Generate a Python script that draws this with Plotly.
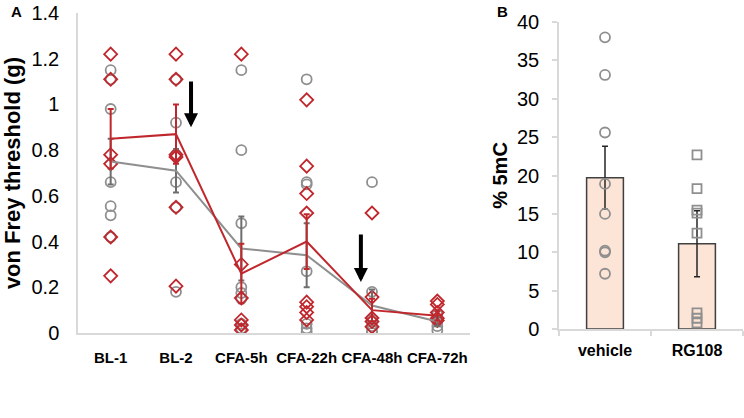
import plotly.graph_objects as go

# ---------------- Panel A data ----------------
timepoints = ["BL-1", "BL-2", "CFA-5h", "CFA-22h", "CFA-48h", "CFA-72h"]

gray_points = {
    "BL-1": [1.15, 1.11, 0.98, 0.66, 0.555, 0.515, 0.42],
    "BL-2": [1.11, 0.92, 0.78, 0.66, 0.55, 0.18],
    "CFA-5h": [1.15, 0.80, 0.48, 0.20, 0.175, 0.15, 0.04, 0.02],
    "CFA-22h": [1.11, 0.66, 0.65, 0.27, 0.04, 0.02, 0.005],
    "CFA-48h": [0.66, 0.18, 0.06, 0.03, 0.01, 0.0],
    "CFA-72h": [0.08, 0.05, 0.03, 0.012],
}
red_points = {
    "BL-1": [1.22, 1.11, 0.78, 0.74, 0.42, 0.25],
    "BL-2": [1.22, 1.11, 0.78, 0.77, 0.55, 0.205],
    "CFA-5h": [1.22, 0.30, 0.153, 0.057, 0.035, 0.013],
    "CFA-22h": [1.02, 0.73, 0.61, 0.525, 0.135, 0.115, 0.09, 0.057],
    "CFA-48h": [0.525, 0.157, 0.066, 0.05, 0.027],
    "CFA-72h": [0.14, 0.125, 0.09, 0.065, 0.055],
}
gray_mean = [0.75, 0.71, 0.37, 0.34, 0.12, 0.05]
gray_sem = [0.10, 0.095, 0.14, 0.14, 0.07, 0.02]
red_mean = [0.85, 0.87, 0.26, 0.40, 0.10, 0.075]
red_sem = [0.13, 0.13, 0.13, 0.12, 0.05, 0.02]

# arrows: (x position in category units, y start, y end)
arrows = [(1.23, 1.107, 0.90), (3.83, 0.437, 0.223)]

# ---------------- Panel B data ----------------
groups = ["vehicle", "RG108"]
group_mean = [19.7, 11.1]
group_sem = [4.1, 4.3]
vehicle_points = [38.0, 33.1, 25.6, 18.9, 15.0, 10.2, 10.0, 7.2]
rg108_points = [22.7, 18.3, 15.5, 15.1, 12.5, 2.1, 1.4, 0.8]

RED = "#C0272D"
GRAY = "#8F8F8F"
AXC = "#D9D9D9"
FONT = "Arial, Liberation Sans, sans-serif"
W, H = 744, 418

fig = go.Figure()

gx, gy = [], []
for t in timepoints:
    for v in gray_points[t]:
        gx.append(t); gy.append(v)
fig.add_trace(go.Scatter(x=gx, y=gy, mode="markers", xaxis="x", yaxis="y",
                         marker=dict(symbol="circle-open", size=10, color=GRAY,
                                     line=dict(width=1.8, color=GRAY)),
                         showlegend=False, hoverinfo="skip"))
rx, ry = [], []
for t in timepoints:
    for v in red_points[t]:
        rx.append(t); ry.append(v)
fig.add_trace(go.Scatter(x=rx, y=ry, mode="markers", xaxis="x", yaxis="y",
                         marker=dict(symbol="diamond-open", size=10, color=RED,
                                     line=dict(width=1.8, color=RED)),
                         showlegend=False, hoverinfo="skip"))
fig.add_trace(go.Scatter(x=timepoints, y=gray_mean, mode="lines", xaxis="x", yaxis="y",
                         line=dict(color=GRAY, width=2),
                         error_y=dict(type="data", array=gray_sem, color="#6E6E6E",
                                      thickness=2, width=3),
                         showlegend=False, hoverinfo="skip"))
fig.add_trace(go.Scatter(x=timepoints, y=red_mean, mode="lines", xaxis="x", yaxis="y",
                         line=dict(color=RED, width=2),
                         error_y=dict(type="data", array=red_sem, color=RED,
                                      thickness=2, width=3),
                         showlegend=False, hoverinfo="skip"))

fig.add_trace(go.Bar(x=groups, y=group_mean, xaxis="x2", yaxis="y2", width=0.4,
                     marker=dict(color="#FCE4D6", line=dict(color="#404040", width=1.5)),
                     error_y=dict(type="data", array=group_sem, color="#262626",
                                  thickness=1.5, width=3),
                     showlegend=False, hoverinfo="skip"))
fig.add_trace(go.Scatter(x=["vehicle"] * len(vehicle_points), y=vehicle_points,
                         mode="markers", xaxis="x2", yaxis="y2",
                         marker=dict(symbol="circle-open", size=10, color=GRAY,
                                     line=dict(width=1.8, color=GRAY)),
                         showlegend=False, hoverinfo="skip"))
fig.add_trace(go.Scatter(x=["RG108"] * len(rg108_points), y=rg108_points,
                         mode="markers", xaxis="x2", yaxis="y2",
                         marker=dict(symbol="square-open", size=9, color=GRAY,
                                     line=dict(width=1.8, color=GRAY)),
                         showlegend=False, hoverinfo="skip"))

annotations = []
for (ax_, y0, y1) in arrows:
    annotations.append(dict(x=ax_, y=y1, ax=ax_, ay=y0, xref="x", yref="y",
                            axref="x", ayref="y", showarrow=True, arrowhead=2,
                            arrowsize=0.7, arrowwidth=4, arrowcolor="black", text=""))
annotations.append(dict(x=9 / W, y=1 - 1 / H, xref="paper", yref="paper", text="<b>A</b>",
                        showarrow=False, font=dict(size=15, color="black", family=FONT),
                        xanchor="left", yanchor="top"))
annotations.append(dict(x=495 / W, y=1 - 1 / H, xref="paper", yref="paper", text="<b>B</b>",
                        showarrow=False, font=dict(size=15, color="black", family=FONT),
                        xanchor="left", yanchor="top"))

ticky = dict(size=20, family=FONT, color="black")

fig.update_layout(
    width=W, height=H,
    margin=dict(l=0, r=0, t=0, b=0),
    paper_bgcolor="white", plot_bgcolor="white",
    font=dict(family=FONT, color="black"),
    annotations=annotations,
    xaxis=dict(domain=[78 / W, 470 / W], type="category", range=[-0.5, 5.5],
               categoryorder="array", categoryarray=timepoints, automargin=False,
               tickmode="array", tickvals=timepoints,
               ticktext=["<b>%s</b>" % t for t in timepoints],
               showline=True, linecolor=AXC, linewidth=1.5, showgrid=False,
               zeroline=False, ticks="outside", ticklen=10, tickcolor="rgba(0,0,0,0)",
               tickangle=0, tickfont=dict(size=15, family=FONT, color="black"),
               anchor="y"),
    yaxis=dict(domain=[(H - 333) / H, (H - 13) / H], range=[0, 1.4], dtick=0.2,
               automargin=False,
               showline=True, linecolor=AXC, linewidth=1.5, showgrid=False,
               zeroline=False, ticks="outside", ticklen=13, tickcolor="rgba(0,0,0,0)",
               tickfont=ticky,
               title=dict(text="<b>von Frey threshold (g)</b>", standoff=6,
                          font=dict(size=22, family=FONT, color="black")),
               anchor="x"),
    xaxis2=dict(domain=[559 / W, 743 / W], type="category", range=[-0.5, 1.5],
                categoryorder="array", categoryarray=groups, automargin=False,
                tickmode="array", tickvals=groups,
                ticktext=["<b>%s</b>" % g for g in groups],
                showline=True, linecolor=AXC, linewidth=1.5, showgrid=False,
                zeroline=False, ticks="outside", tickson="boundaries", ticklen=5,
                tickcolor=AXC, tickwidth=1.5, tickangle=0, ticklabelstandoff=6,
                tickfont=dict(size=16, family=FONT, color="black"), anchor="y2"),
    yaxis2=dict(domain=[(H - 329) / H, (H - 22) / H], range=[0, 40], dtick=5,
                automargin=False,
                showline=True, linecolor=AXC, linewidth=1.5, showgrid=False,
                zeroline=False, ticks="outside", ticklen=5, tickcolor=AXC, tickwidth=1.5,
                ticklabelstandoff=9, tickfont=ticky,
                title=dict(text="<b>% 5mC</b>", standoff=4,
                           font=dict(size=20, family=FONT, color="black")),
                anchor="x2"),
)

fig.write_html("out.html", config={"displayModeBar": False},
               post_script="document.body.style.margin='0';")
